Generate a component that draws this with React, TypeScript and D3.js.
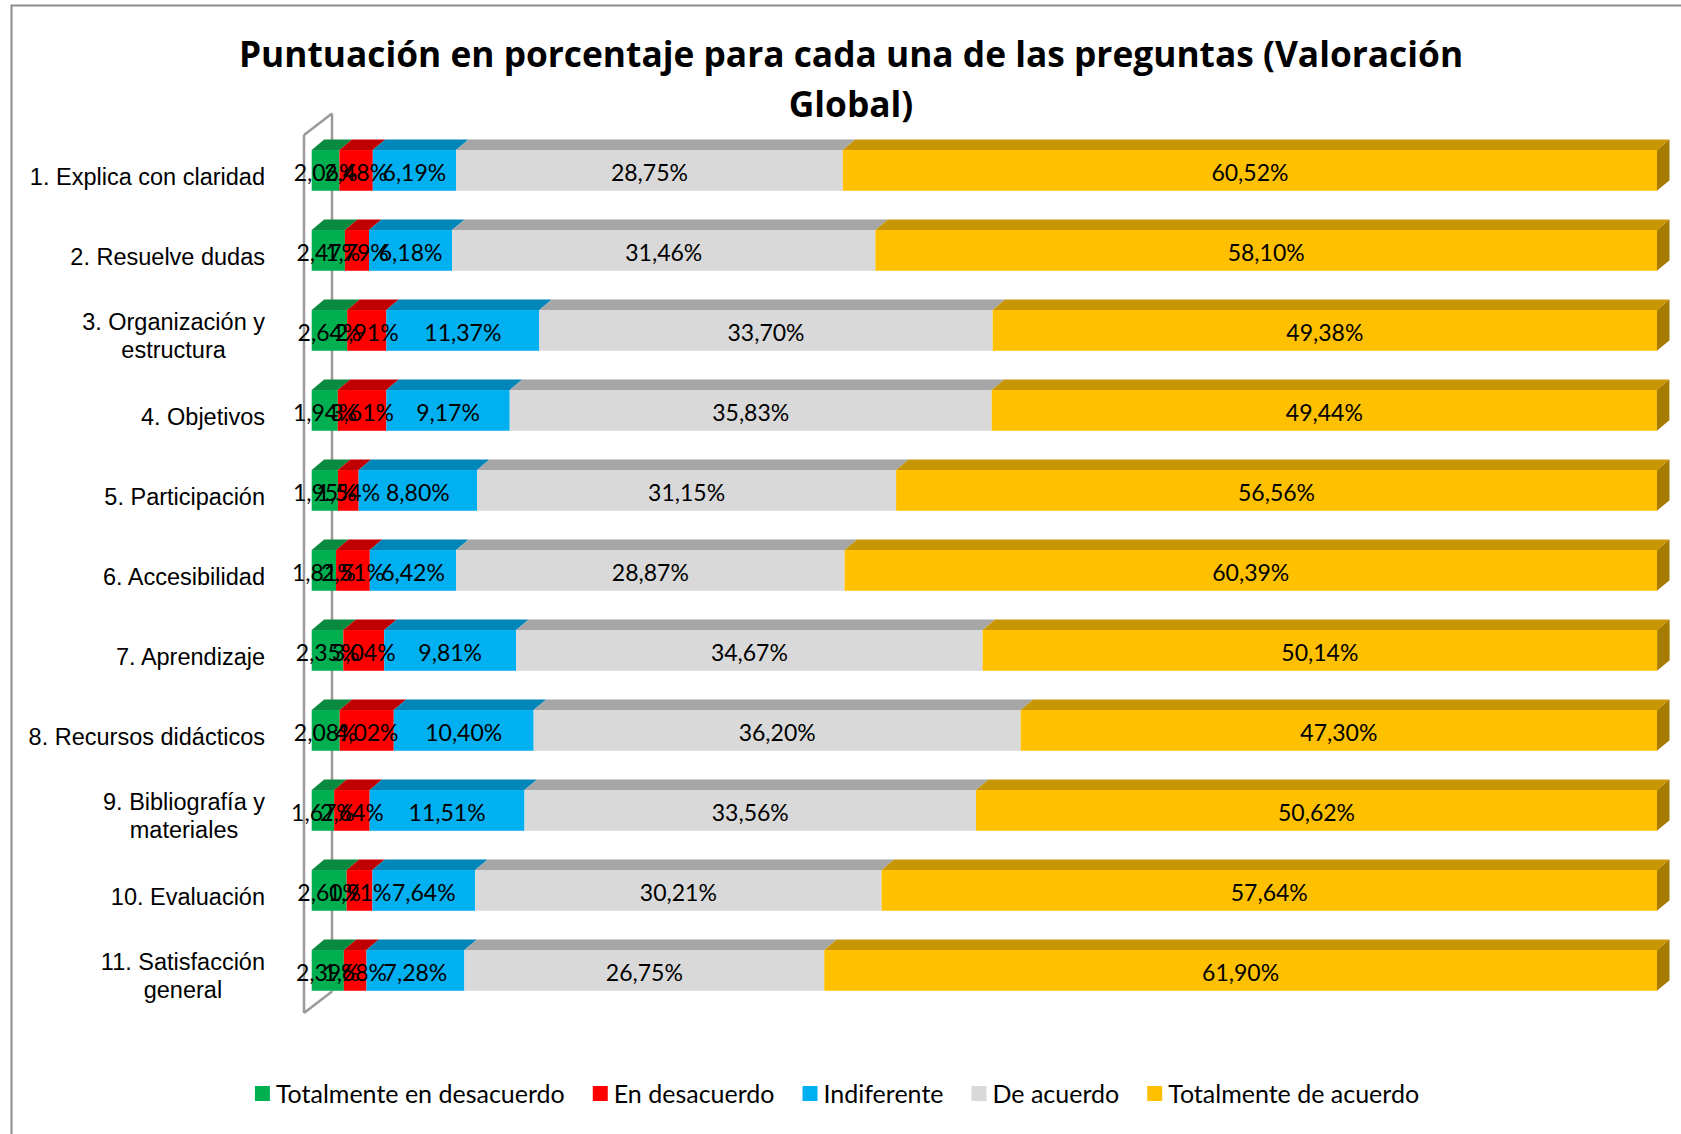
import React from "react";
import * as d3 from "d3";

const categories: string[][] = [
  ["1. Explica con claridad"],
  ["2. Resuelve dudas"],
  ["3. Organización y", "estructura"],
  ["4. Objetivos"],
  ["5. Participación"],
  ["6. Accesibilidad"],
  ["7. Aprendizaje"],
  ["8. Recursos didácticos"],
  ["9. Bibliografía y", "materiales"],
  ["10. Evaluación"],
  ["11. Satisfacción", "general"],
];

const seriesNames = [
  "Totalmente en desacuerdo",
  "En desacuerdo",
  "Indiferente",
  "De acuerdo",
  "Totalmente de acuerdo",
];

const totDesacuerdo = [2.06, 2.47, 2.64, 1.94, 1.95, 1.81, 2.35, 2.08, 1.67, 2.6, 2.39];
const enDesacuerdo = [2.48, 1.79, 2.91, 3.61, 1.54, 2.51, 3.04, 4.02, 2.64, 1.91, 1.68];
const indiferente = [6.19, 6.18, 11.37, 9.17, 8.8, 6.42, 9.81, 10.4, 11.51, 7.64, 7.28];
const deAcuerdo = [28.75, 31.46, 33.7, 35.83, 31.15, 28.87, 34.67, 36.2, 33.56, 30.21, 26.75];
const totAcuerdo = [60.52, 58.1, 49.38, 49.44, 56.56, 60.39, 50.14, 47.3, 50.62, 57.64, 61.9];

const frontColors = ["#00B050", "#FF0000", "#00B0F0", "#D9D9D9", "#FFC000"];
const topColors = ["#0A8A40", "#C00000", "#0086B8", "#A6A6A6", "#C89600"];
const sideColor = "#A67C00";

const W = 1681;
const H = 1134;

const labelFont = '23.5px "Liberation Sans", Arial, sans-serif';
const dataFontFamily = 'Lato, "Open Sans", sans-serif';
const titleFontFamily = '"Open Sans", Lato, sans-serif';

let ctx: CanvasRenderingContext2D | null = null;
function measure(text: string, font: string): number {
  if (!ctx) {
    const c = document.createElement("canvas");
    ctx = c.getContext("2d");
  }
  if (!ctx) return text.length * 10;
  ctx.font = font;
  return ctx.measureText(text).width;
}

export default function App() {
  if (typeof document !== "undefined") document.body.style.margin = "0";
  const series = [totDesacuerdo, enDesacuerdo, indiferente, deAcuerdo, totAcuerdo];
  const keys = categories.map((c) => c.join(" "));

  const x = d3.scaleLinear().domain([0, 100]).range([311.7, 1657]);
  const y = d3
    .scaleBand<string>()
    .domain(keys)
    .range([130.4, 1010.4])
    .paddingInner(0.491)
    .paddingOuter(0.2455);

  const dx = 12.5;
  const dy = 10.5;
  const fmt = (v: number) => d3.format(".2f")(v).replace(".", ",") + "%";

  const rows = keys.map((k, i) => {
    let acc = 0;
    const segs = series.map((s, j) => {
      const x0 = acc;
      acc += s[i];
      return { j, v: s[i], x0, x1: acc };
    });
    return { k, i, segs };
  });

  // Wall
  const wallFrontX = 304;
  const wallBackX = 332;
  const wallTopY = 135;
  const wallBotY = 1013;
  const wdy = 21.5;

  // legend
  const legendSize = 25;
  const legendFont = `${legendSize}px ${dataFontFamily}`;
  const sq = 15;
  const gapText = 6;
  const gapItem = 28;
  const widths = seriesNames.map((n) => sq + gapText + measure(n, legendFont));
  const totalW = d3.sum(widths) + gapItem * (seriesNames.length - 1);
  let lx = 837 - totalW / 2;
  const legendItems = seriesNames.map((n, j) => {
    const item = { n, j, x: lx };
    lx += widths[j] + gapItem;
    return item;
  });

  const labelRight = 265;

  return (
    <svg
      width={W}
      height={H}
      style={{ position: "absolute", left: 0, top: 0, background: "#fff" }}
    >
      <rect x={0} y={0} width={W} height={H} fill="#fff" />
      <rect x={11.5} y={5.5} width={W + 50} height={H + 50} fill="none" stroke="#8C8C8C" strokeWidth={2} />

      <text
        x={851}
        y={67}
        textAnchor="middle"
        fontFamily={titleFontFamily}
        fontWeight="bold"
        fontSize={35.3}
        fill="#000"
      >
        Puntuación en porcentaje para cada una de las preguntas (Valoración
      </text>
      <text
        x={851}
        y={117}
        textAnchor="middle"
        fontFamily={titleFontFamily}
        fontWeight="bold"
        fontSize={35.3}
        fill="#000"
      >
        Global)
      </text>

      {/* wall */}
      <g stroke="#9A9A9A" strokeWidth={2.5} fill="none">
        <line x1={wallFrontX} y1={wallTopY} x2={wallFrontX} y2={wallBotY} />
        <line x1={wallBackX} y1={wallTopY - wdy} x2={wallBackX} y2={wallBotY - wdy} />
        <line x1={wallFrontX} y1={wallTopY} x2={wallBackX} y2={wallTopY - wdy} />
        <line x1={wallFrontX} y1={wallBotY} x2={wallBackX} y2={wallBotY - wdy} />
      </g>

      {/* bars */}
      {rows.map((r) => {
        const top = y(r.k)!;
        const bh = y.bandwidth();
        const last = r.segs[r.segs.length - 1];
        return (
          <g key={r.k}>
            {r.segs.map((s) => {
              const a = x(s.x0);
              const b = x(s.x1);
              return (
                <g key={s.j}>
                  <path
                    d={`M${a},${top} L${b},${top} L${b + dx},${top - dy} L${a + dx},${top - dy} Z`}
                    fill={topColors[s.j]}
                  />
                  <rect x={a} y={top} width={b - a} height={bh} fill={frontColors[s.j]} />
                </g>
              );
            })}
            <path
              d={`M${x(last.x1)},${top} L${x(last.x1) + dx},${top - dy} L${x(last.x1) + dx},${top + bh - dy} L${x(last.x1)},${top + bh} Z`}
              fill={sideColor}
            />
          </g>
        );
      })}

      {/* data labels */}
      {rows.map((r) => {
        const cy = y(r.k)! + y.bandwidth() / 2;
        return (
          <g key={"l" + r.k}>
            {r.segs.map((s) => (
              <text
                key={s.j}
                x={(x(s.x0) + x(s.x1)) / 2}
                y={cy + 10.2}
                textAnchor="middle"
                fontFamily={dataFontFamily}
                fontSize={23}
                fill="#000"
              >
                {fmt(s.v)}
              </text>
            ))}
          </g>
        );
      })}

      {/* category labels */}
      {rows.map((r) => {
        const cy = y(r.k)! + y.bandwidth() / 2;
        const lines = categories[r.i];
        if (lines.length === 1) {
          return (
            <text
              key={"c" + r.k}
              x={labelRight}
              y={cy + 6.5 + 8.4}
              textAnchor="end"
              fontFamily='"Liberation Sans", Arial, sans-serif'
              fontSize={23.5}
              fill="#000"
            >
              {lines[0]}
            </text>
          );
        }
        const maxW = d3.max(lines, (l) => measure(l, labelFont)) || 0;
        const center = labelRight - maxW / 2;
        return (
          <g key={"c" + r.k}>
            {lines.map((l, li) => (
              <text
                key={li}
                x={center}
                y={cy - 9 + li * 28 + 8.4}
                textAnchor="middle"
                fontFamily='"Liberation Sans", Arial, sans-serif'
                fontSize={23.5}
                fill="#000"
              >
                {l}
              </text>
            ))}
          </g>
        );
      })}

      {/* legend */}
      {legendItems.map((it) => (
        <g key={it.n}>
          <rect x={it.x} y={1086} width={sq} height={sq} fill={frontColors[it.j]} />
          <text
            x={it.x + sq + gapText}
            y={1102.5}
            fontFamily={dataFontFamily}
            fontSize={legendSize}
            fill="#000"
          >
            {it.n}
          </text>
        </g>
      ))}
    </svg>
  );
}
